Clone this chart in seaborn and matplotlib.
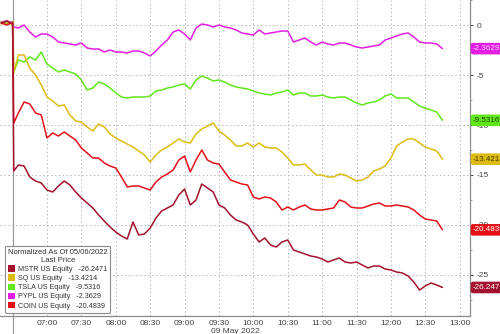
import matplotlib
matplotlib.use("Agg")
import matplotlib.pyplot as plt
import matplotlib.ticker as mticker
from matplotlib.patches import Patch
import seaborn as sns
import pandas as pd

times = ["06:20", "06:25", "06:30", "06:31",
         "06:35", "06:40", "06:45", "06:50", "06:55",
         "07:00", "07:05", "07:10", "07:15", "07:20", "07:25", "07:30", "07:35", "07:40", "07:45", "07:50", "07:55",
         "08:00", "08:05", "08:10", "08:15", "08:20", "08:25", "08:30", "08:35", "08:40", "08:45", "08:50", "08:55",
         "09:00", "09:05", "09:10", "09:15", "09:20", "09:25", "09:30", "09:35", "09:40", "09:45", "09:50", "09:55",
         "10:00", "10:05", "10:10", "10:15", "10:20", "10:25", "10:30", "10:35", "10:40", "10:45", "10:50", "10:55",
         "11:00", "11:05", "11:10", "11:15", "11:20", "11:25", "11:30", "11:35", "11:40", "11:45", "11:50", "11:55",
         "12:00", "12:05", "12:10", "12:15", "12:20", "12:25", "12:30", "12:35", "12:40", "12:45"]

pypl = [0.3, 0.4, 0.2, -0.2,
        -0.3, 0.0, -0.7, -1.2, -0.9,
        -0.9, -1.2, -1.7, -1.8, -1.9, -2.0, -1.8, -2.3, -2.4, -2.4, -2.7, -2.5,
        -2.7, -2.7, -2.8, -2.6, -2.6, -2.8, -3.1, -2.6, -2.0, -1.5, -0.7, -0.5,
        -0.9, -1.5, -0.3, 0.1, 0.0, -0.2, 0.0, -0.2, -0.3, -0.5, -0.8, -0.9,
        -1.0, -0.5, -0.9, -0.8, -0.7, -0.6, -0.6, -1.7, -1.5, -1.3, -1.7, -2.0,
        -1.7, -1.9, -2.0, -1.8, -1.8, -2.0, -2.2, -2.3, -2.2, -2.1, -2.0, -1.5,
        -1.3, -1.1, -0.9, -0.8, -1.2, -1.7, -1.8, -1.8, -1.9, -2.3629]

tsla = [0.3, 0.1, 0.3, -4.7,
        -3.5, -3.7, -3.2, -3.5, -2.7,
        -3.9, -4.3, -4.7, -4.5, -4.7, -4.9, -5.5, -6.5, -6.3, -5.7, -5.9, -6.3,
        -6.8, -7.2, -7.3, -7.2, -7.2, -7.2, -7.1, -6.6, -6.5, -6.3, -6.2, -6.0,
        -5.9, -6.4, -5.5, -5.1, -5.3, -5.6, -5.5, -5.7, -6.0, -6.2, -6.3, -6.4,
        -6.6, -6.8, -6.9, -7.0, -6.8, -6.7, -6.5, -7.0, -6.8, -6.8, -7.1, -7.1,
        -7.0, -7.2, -7.3, -7.2, -7.2, -7.5, -7.8, -8.0, -7.8, -7.7, -7.5, -7.1,
        -6.9, -7.3, -7.3, -7.3, -7.7, -8.1, -8.3, -8.5, -8.7, -9.5316]

sq = [0.1, 0.3, 0.0, -4.8,
      -3.0, -3.0, -4.3, -5.0, -6.0,
      -7.2, -7.6, -8.1, -8.0, -9.0, -9.6, -9.7, -10.2, -10.6, -9.9, -10.2, -10.9,
      -11.3, -11.6, -11.9, -12.2, -12.6, -13.0, -13.7, -13.0, -12.5, -12.2, -11.8, -11.4,
      -11.7, -11.8, -10.9, -10.4, -10.1, -9.8, -10.6, -11.0, -11.5, -12.1, -12.1, -11.8,
      -12.2, -11.8, -12.2, -12.3, -12.3, -12.7, -13.3, -14.0, -14.0, -13.9, -14.5, -15.0,
      -15.0, -15.2, -15.2, -14.9, -15.0, -15.3, -15.6, -15.5, -15.2, -14.6, -14.4, -14.1,
      -13.3, -12.1, -11.7, -11.4, -11.4, -11.8, -12.2, -12.4, -12.6, -13.4214]

coin = [0.2, 0.0, 0.3, -9.8,
        -8.8, -7.7, -7.9, -8.8, -9.0,
        -11.3, -10.8, -11.1, -10.7, -11.1, -11.5, -12.3, -12.8, -13.3, -13.3, -13.8, -14.1,
        -14.3, -15.2, -16.2, -16.1, -16.1, -16.3, -16.5, -15.7, -15.2, -14.9, -14.5, -13.5,
        -13.1, -14.7, -13.5, -12.5, -13.5, -13.8, -13.9, -14.7, -15.5, -15.7, -15.9, -16.0,
        -17.2, -17.4, -17.2, -17.3, -17.7, -18.5, -18.2, -18.5, -18.2, -18.0, -18.4, -18.5,
        -18.5, -18.4, -18.3, -17.5, -17.7, -18.2, -18.3, -18.3, -18.1, -17.9, -17.8, -18.1,
        -18.1, -18.0, -18.1, -18.2, -18.5, -19.0, -19.4, -19.5, -19.6, -20.4839]

mstr = [0.2, 0.4, 0.1, -14.6,
        -14.0, -14.1, -15.2, -15.6, -15.8,
        -16.5, -16.7, -16.1, -15.6, -16.0, -16.7, -17.3, -17.8, -18.3, -19.0, -19.6, -20.2,
        -20.7, -21.1, -21.4, -19.7, -21.0, -20.9, -20.3, -19.3, -18.6, -18.3, -18.0, -17.0,
        -16.4, -18.0, -17.5, -15.9, -16.3, -16.7, -18.0, -18.3, -19.0, -19.5, -19.7, -20.0,
        -20.9, -21.7, -21.3, -22.0, -22.2, -21.7, -21.5, -22.5, -22.7, -22.9, -23.1, -23.2,
        -23.4, -23.7, -23.5, -23.3, -23.7, -23.8, -23.7, -24.0, -24.3, -24.1, -24.1, -24.4,
        -24.5, -24.7, -24.8, -25.1, -25.7, -26.5, -26.1, -25.8, -26.0, -26.2471]

tickers = ["MSTR US Equity", "SQ US Equity", "TSLA US Equity", "PYPL US Equity", "COIN US Equity"]
last_values = ["-26.2471", "-13.4214", "-9.5316", "-2.3629", "-20.4839"]
series = [mstr, sq, tsla, pypl, coin]
colors = ["#a3122f", "#dcbc12", "#62e61c", "#e21ee2", "#e3101a"]
label_text_colors = ["#ffffff", "#4a3a00", "#1f4a00", "#ffd0ff", "#ffffff"]

y_ticks = [0, -5, -10, -15, -20, -25]
x_tick_labels = ["07:00", "07:30", "08:00", "08:30", "09:00", "09:30", "10:00",
                 "10:30", "11:00", "11:30", "12:00", "12:30", "13:00"]
legend_title = "Normalized As Of 05/06/2022\nLast Price"
date_label = "09 May 2022"


def to_min(s):
    h, m = s.split(":")
    return (int(h) - 7) * 60 + int(m)


rows = []
for name, vals in zip(tickers, series):
    for t, v in zip(times, vals):
        rows.append({"t": to_min(t), "value": v, "ticker": name})
df = pd.DataFrame(rows)

sns.set_style("white")
plt.rcParams["font.family"] = ["Liberation Sans", "DejaVu Sans"]

fig = plt.figure(figsize=(5.0, 3.34), dpi=100)
ax = fig.add_axes([0.0, 18 / 334, 470 / 500, 316 / 334])

# grid
for lab in x_tick_labels:
    ax.axvline(to_min(lab), color="#b8b8b8", lw=0.7, ls=(0, (1.5, 2.5)), zorder=0)
for yv in y_ticks:
    ax.axhline(yv, color="#b8b8b8", lw=0.7, ls=(0, (1.5, 2.5)), zorder=0)

# day separator
sep = to_min("06:30") + 0.6
ax.plot([sep, sep], [-0.08, 1.0], color="#9a9a9a", lw=0.9,
        transform=ax.get_xaxis_transform(), clip_on=False, zorder=1)

palette = dict(zip(tickers, colors))
order = ["PYPL US Equity", "TSLA US Equity", "SQ US Equity", "COIN US Equity", "MSTR US Equity"]
sns.lineplot(data=df, x="t", y="value", hue="ticker", hue_order=order,
             palette=palette, lw=1.1, ax=ax, legend=False, zorder=3)

ax.set_xlim(-41, 369)
ax.set_ylim(-29.1, 2.5)

# axes styling
for s in ["left", "top"]:
    ax.spines[s].set_visible(False)
for s in ["right", "bottom"]:
    ax.spines[s].set_color("#8c8c8c")
    ax.spines[s].set_linewidth(0.9)

ax.yaxis.tick_right()
ax.set_yticks(y_ticks)
ax.set_yticklabels([f"{v}" for v in y_ticks])
ax.yaxis.set_minor_locator(mticker.MultipleLocator(2.5))
ax.set_xticks([to_min(l) for l in x_tick_labels])
ax.set_xticklabels(x_tick_labels)
ax.xaxis.set_minor_locator(mticker.FixedLocator([to_min(l) - 15 for l in x_tick_labels]))
ax.tick_params(axis="both", which="major", labelsize=6.0, colors="#444444",
               length=2, width=0.7, pad=1)
ax.tick_params(axis="both", which="minor", length=1.5, width=0.6, colors="#888888")
ax.tick_params(axis="y", pad=3)
ax.set_xlabel("")
ax.set_ylabel("")

fig.text(235 / 500, 1 - 331.5 / 334, date_label, ha="center", va="center",
         fontsize=6.0, color="#444444")

# right-side value tags
for name, vals, col, tcol, lv in zip(tickers, series, colors, label_text_colors, last_values):
    ax.annotate(lv, xy=(1.0, vals[-1]), xycoords=("axes fraction", "data"),
                xytext=(2.2, 0), textcoords="offset points", ha="left", va="center",
                fontsize=5.8, color=tcol, annotation_clip=False, zorder=5,
                bbox=dict(boxstyle="round,pad=0.2,rounding_size=0.2", fc=col, ec=col))

# legend
handles = [Patch(facecolor=c, edgecolor="none") for c in colors]
labels = [f"{n}   {v}" for n, v in zip(tickers, last_values)]
leg = fig.legend(handles, labels, title=legend_title, loc="upper left",
                 bbox_to_anchor=(5 / 500, 1 - 246 / 334), borderaxespad=0,
                 fontsize=5.2, title_fontsize=5.5,
                 handlelength=0.9, handleheight=1.0, handletextpad=0.4, labelspacing=0.2,
                 borderpad=0.4, frameon=True, fancybox=True, framealpha=1)
leg.get_frame().set_edgecolor("#8c8c8c")
leg.get_frame().set_linewidth(0.8)
leg.get_title().set_multialignment("center")
for t in leg.get_texts():
    t.set_color("#333333")
leg.get_title().set_color("#333333")

fig.savefig("out.png", dpi=100)
